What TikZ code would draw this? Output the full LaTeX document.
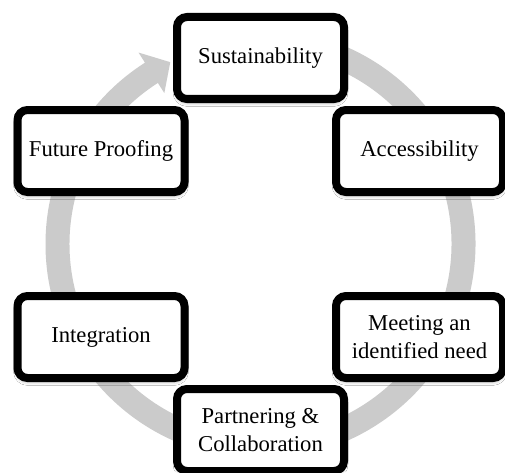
\documentclass[tikz,border=0pt]{standalone}
\usepackage{fontspec}
\setmainfont{Liberation Serif}
\usetikzlibrary{shadows.blur}
\definecolor{ringgray}{HTML}{CBCBCB}
\tikzset{
  cyclebox/.style={
    draw=black, fill=white, line width=6pt, rounded corners=7.5pt,
    minimum width=125.25pt, minimum height=61.5pt, inner sep=2pt,
    align=center, font=\fontsize{17}{21}\selectfont,
    blur shadow={shadow xshift=0pt, shadow yshift=-2.5pt,
                 shadow blur radius=3pt, shadow opacity=35}
  }
}
\begin{document}
\begin{tikzpicture}[x=0.75pt, y=0.75pt]
  \useasboundingbox (0,0) rectangle (505,472);
  \fill[white] (0,0) rectangle (505,472);

  % grey cycle band with its arrow head, running clockwise
  \begin{scope}[shift={(260.5,228)}]
    \fill[ringgray]
      (85:161.25pt) arc[start angle=85, end angle=-237.5, radius=161.25pt]
      -- (-237.5:170.25pt) -- (-243.6:152.25pt) -- (-237.5:134.25pt)
      -- (-237.5:143.25pt) arc[start angle=-237.5, end angle=85, radius=143.25pt]
      -- cycle;
  \end{scope}

  % the six stages
  \node[cyclebox] (sus) at (260.5,414) {Sustainability};
  \node[cyclebox] (acc) at (419.5,321) {Accessibility};
  \node[cyclebox] (mee) at (419.5,135) {Meeting an\\identified need};
  \node[cyclebox] (par) at (260.5,42)  {Partnering \&\\Collaboration};
  \node[cyclebox] (int) at (101,135)   {Integration};
  \node[cyclebox] (fut) at (101,321)   {Future Proofing};
\end{tikzpicture}
\end{document}
